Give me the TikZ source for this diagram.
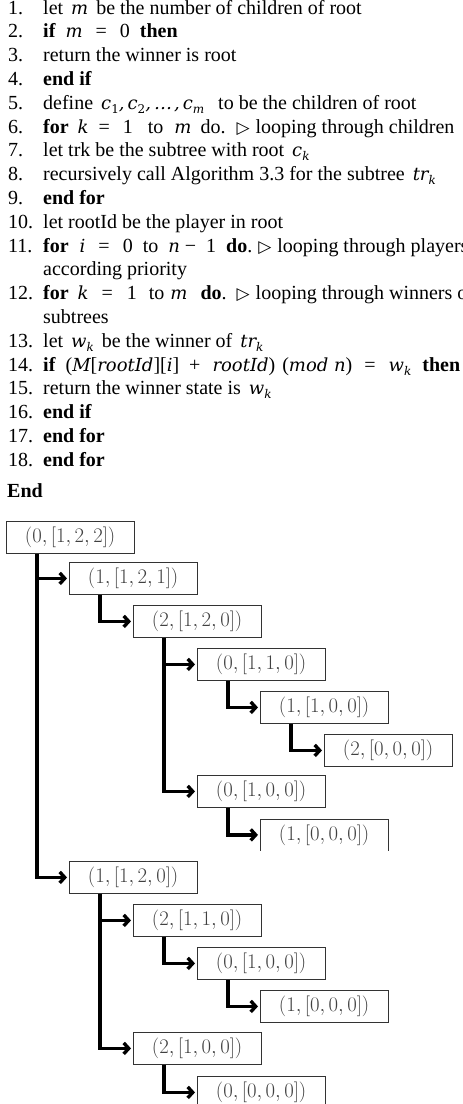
\documentclass[tikz,border=0pt]{standalone}
\usepackage[no-math]{fontspec}
\setmainfont{Liberation Serif}
\newfontfamily\symf{DejaVu Sans}
\newfontfamily\varf{DejaVu Serif}
\usetikzlibrary{arrows.meta}
% italic variables in the listing, set like equation objects
\newcommand\va[1]{{\varf\itshape\fontsize{18}{20}\selectfont #1}}
\newcommand\sub[1]{\raisebox{-4pt}{\varf\fontsize{12}{12}\selectfont #1}}
\newcommand\subi[1]{\raisebox{-4pt}{\varf\itshape\fontsize{12}{12}\selectfont #1}}
\newcommand\hs[1]{\hspace{#1pt}}
\newcommand\tri{{\symf\fontsize{17}{17}\selectfont ▷}}
\begin{document}
\begin{tikzpicture}[x=1pt,y=-1pt,
  alg/.style={anchor=base west,inner sep=0pt,font=\fontsize{20}{24}\selectfont},
  state/.style={draw=black!80,line width=0.8pt,minimum width=127.5pt,minimum height=32pt,
    inner sep=0pt,anchor=north west,text=black!75,font=\fontsize{21}{21}\selectfont},
  conn/.style={line width=3.4pt,-{Straight Barb[length=5pt,width=11pt]},shorten >=2pt}]
\useasboundingbox (0,0) rectangle (463,1104);
\clip (0,0) rectangle (463,1104);

% algorithm listing
\foreach \num/\row in {1./0,2./1,3./2,4./3,5./4,6./5,7./6,8./7,9./8,10./9,11./10,12./12,13./14,14./15,15./16,16./17,17./18,18./19}
  \node[alg] (num\row) at (8,14+23.8*\row) {\num};
\node[alg] (l0) at (43,14) {let\hs{8}\va{m}\hs{8}be the number of children of root};
\node[alg] (l1) at (43,14+23.8*1) {\textbf{if}\hs{10}\va{m}\hs{13}=\hs{13}0\hs{10}\textbf{then}};
\node[alg] (l2) at (43,14+23.8*2) {return the winner is root};
\node[alg] (l3) at (43,14+23.8*3) {\textbf{end if}};
\node[alg] (l4) at (43,14+23.8*4) {define\hs{8}\va{c}\sub{1}\va{,}\hs{3}\va{c}\sub{2}\va{,}\hs{3}\va{…}\hs{2}\va{,}\hs{3}\va{c}\subi{m}\hs{14}to be the children of root};
\node[alg] (l5) at (43,14+23.8*5) {\textbf{for}\hs{9}\va{k}\hs{10}=\hs{13}1\hs{15}to\hs{11}\va{m}\hs{9}do.\hs{11}\tri\hs{6}looping through children};
\node[alg] (l6) at (43,14+23.8*6) {let trk be the subtree with root\hs{8}\va{c}\subi{k}};
\node[alg] (l7) at (43,14+23.8*7) {recursively call Algorithm 3.3 for the subtree\hs{8}\va{tr}\subi{k}};
\node[alg] (l8) at (43,14+23.8*8) {\textbf{end for}};
\node[alg] (l9) at (43,14+23.8*9) {let rootId be the player in root};
\node[alg] (l10) at (43,14+23.8*10) {\textbf{for}\hs{11}\va{i}\hs{13}=\hs{13}0\hs{10}to\hs{10}\va{n}\hs{5}−\hs{10}1\hs{10}\textbf{do}.\hs{6}\tri\hs{6}looping through players};
\node[alg] (l11) at (43,14+23.8*11) {according priority};
\node[alg] (l12) at (43,14+23.8*12) {\textbf{for}\hs{9}\va{k}\hs{13}=\hs{14}1\hs{12}to\hs{6}\va{m}\hs{13}\textbf{do}.\hs{10}\tri\hs{6}looping through winners of};
\node[alg] (l13) at (43,14+23.8*13) {subtrees};
\node[alg] (l14) at (43,14+23.8*14) {let\hs{8}\va{w}\subi{k}\hs{8}be the winner of\hs{8}\va{tr}\subi{k}};
\node[alg] (l15) at (43,14+23.8*15) {\textbf{if}\hs{10}(\va{M}[\va{rootId}][\va{i}]\hs{10}+\hs{12}\va{rootId})\hs{7}(\va{mod n})\hs{12}=\hs{13}\va{w}\subi{k}\hs{11}\textbf{then}};
\node[alg] (l16) at (43,14+23.8*16) {return the winner state is\hs{8}\va{w}\subi{k}};
\node[alg] (l17) at (43,14+23.8*17) {\textbf{end if}};
\node[alg] (l18) at (43,14+23.8*18) {\textbf{end for}};
\node[alg] (l19) at (43,14+23.8*19) {\textbf{end for}};
\node[alg] (lend) at (7,497) {\textbf{End}};

% game tree states
\node[state] (r) at (6,521)   {$(0,[1,2,2])$};
\node[state] (a) at (69,562)  {$(1,[1,2,1])$};
\node[state] (b) at (133,605) {$(2,[1,2,0])$};
\node[state] (c) at (197,648) {$(0,[1,1,0])$};
\node[state] (d) at (260,691) {$(1,[1,0,0])$};
\node[state] (e) at (324,734) {$(2,[0,0,0])$};
\node[state] (f) at (197,775) {$(0,[1,0,0])$};
\node[state,draw=none,minimum height=31pt] (g) at (260,819) {$(1,[0,0,0])$};
\draw[black!80,line width=0.8pt] (g.south west) -- (g.north west) -- (g.north east) -- (g.south east);
\node[state] (h) at (69,861)  {$(1,[1,2,0])$};
\node[state] (i) at (133,904) {$(2,[1,1,0])$};
\node[state] (j) at (197,947) {$(0,[1,0,0])$};
\node[state] (k) at (260,990) {$(1,[0,0,0])$};
\node[state] (l) at (133,1032) {$(2,[1,0,0])$};
\node[state] (m) at (197,1076) {$(0,[0,0,0])$};

% parent-to-child connectors
\foreach \p/\q in {r/a,r/h,a/b,b/c,b/f,c/d,d/e,f/g,h/i,h/l,i/j,j/k,l/m}
  \draw[conn] ([xshift=31pt]\p.south west) |- (\q.west);
\end{tikzpicture}
\end{document}
